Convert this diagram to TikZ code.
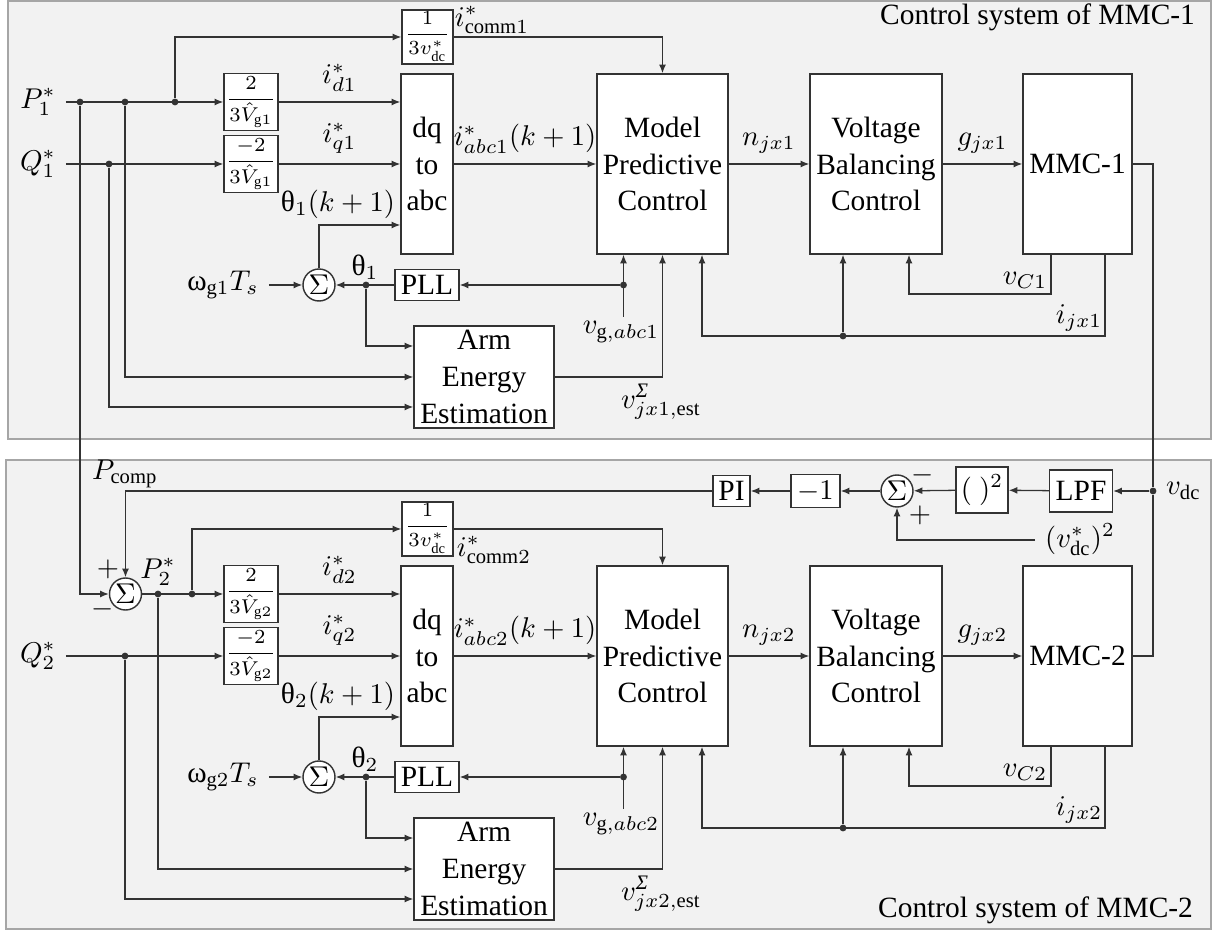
\documentclass[tikz,border=0pt]{standalone}
\usepackage{amsmath}
\usepackage{fontspec}
\setmainfont{Liberation Serif}
\usetikzlibrary{arrows.meta}
\definecolor{PanelGrey}{HTML}{F2F2F2}
\definecolor{EdgeGrey}{HTML}{A6A6A6}
\definecolor{WireInk}{HTML}{333333}
\newcommand{\thsym}{\text{θ}}
\newcommand{\omsym}{\text{ω}}
\newcommand{\sigsym}{\text{\itshape Σ}}
\begin{document}
\begin{tikzpicture}[x=0.35pt,y=-0.35pt,>={Latex[length=3pt,width=2.4pt]},every node/.style={font=\fontsize{10.3}{12.9}\selectfont,text=black},
blk/.style={draw=WireInk,fill=white,line width=0.5pt,inner sep=0.5pt,align=center},gain/.style={blk,inner sep=0pt,font=\fontsize{7.3}{8}\selectfont},sz/.style 2 args={minimum width={#1*0.35pt},minimum height={#2*0.35pt}},
sumnode/.style={circle,draw=WireInk,fill=white,line width=0.5pt,inner sep=0pt,minimum size=11.2pt},jdot/.style={circle,fill=WireInk,inner sep=0pt,minimum size=2.4pt},
wire/.style={WireInk,line width=0.45pt},panel/.style={draw=EdgeGrey,fill=PanelGrey,line width=0.7pt}]
\fill[white] (0,0) rectangle (1220,934); \useasboundingbox (0,0) rectangle (1220,934);
\draw[panel] (8,1) rectangle (1211,439); \draw[panel] (6,460) rectangle (1211,929);
\node[anchor=east] (ttl1) at (1205,17){Control system of MMC-1};
\node[anchor=east] (ttl2) at (1203,910){Control system of MMC-2};
% MMC-1
\node (P1) at (38,102){$P_1^*$}; \node (Q1) at (38,164){$Q_1^*$};
\node[jdot] (pa1) at (80,102){}; \node[jdot] (pb1) at (125,102){}; \node[jdot] (pc1) at (175,102){}; \node[jdot] (qa1) at (109,164){};
\node[gain,sz={51}{54}] (cm1) at (427.5,37){$\dfrac{1}{3v^*_{\mathrm{dc}}}$};
\node[gain,sz={54}{57}] (gd1) at (251,102){$\dfrac{2}{3\hat{V}_{\mathrm{g}1}}$};
\node[gain,sz={54}{57}] (gq1) at (251,164){$\dfrac{-2}{3\hat{V}_{\mathrm{g}1}}$};
\node[blk,sz={52}{180}] (dq1) at (427,164){dq\\to\\abc};
\node[blk,sz={131}{180}] (mpc1) at (662.5,164){Model\\Predictive\\Control};
\node[blk,sz={132}{180}] (vbc1) at (876,164){Voltage\\Balancing\\Control};
\node[blk,sz={109}{180}] (mmc1) at (1077.5,164){MMC-1};
\node[sumnode] (sa1) at (319,285){$\Sigma$}; \node (om1) at (223,285){$\omsym_{\mathrm{g}1}T_s$};
\node[jdot] (th1) at (366,285){}; \node[blk,sz={64}{31}] (pll1) at (427,285){PLL};
\node[jdot] (vgd1) at (623.5,285){}; \coordinate (vgs1) at (623.5,317);
\node[blk,sz={140}{102}] (arm1) at (484,377){Arm\\Energy\\Estimation};
\node[jdot] (jd1) at (843,336){}; \coordinate (ij1) at (1105,336); \coordinate (vc1) at (1051,294);
\node (ic1) at (492,20){$i^*_{\mathrm{comm}1}$}; \node (thk1) at (338,204){$\thsym_1(k+1)$}; \node (thl1) at (365,267){$\thsym_1$};
\node (vgl1) at (621,332){$v_{\mathrm{g},abc1}$}; \node (vsl1) at (661,402){$v^{\sigsym}_{jx1,\mathrm{est}}$};
\node (vcl1) at (1025,280){$v_{C1}$}; \node (ijl1) at (1079,318){$i_{jx1}$};
\draw[wire,->] (P1) -- (gd1); \draw[wire,->] (Q1) -- (gq1); \draw[wire,->] (pc1) |- (cm1); \draw[wire,->] (cm1) -| (mpc1);
\draw[wire,->] (gd1) -- (gd1 -| dq1.west) node[midway,above]{$i_{d1}^*$}; \draw[wire,->] (gq1) -- (gq1 -| dq1.west) node[midway,above]{$i_{q1}^*$};
\draw[wire,->] (dq1) -- (mpc1) node[midway,above]{$i^*_{abc1}(k+1)$}; \draw[wire,->] (mpc1) -- (vbc1) node[midway,above]{$n_{jx1}$}; \draw[wire,->] (vbc1) -- (mmc1) node[midway,above]{$g_{jx1}$};
\draw[wire,->] (om1) -- (sa1); \draw[wire,->] (pll1) -- (sa1); \draw[wire,->] (sa1) |- (dq1.west |- 0,225); \draw[wire,->] (vgd1) -- (pll1); \draw[wire,->] (vgs1) -- (mpc1.south -| vgs1);
\draw[wire,->] (th1) |- (arm1.west |- 0,346); \draw[wire,->] (pb1) |- (arm1); \draw[wire,->] (qa1) |- (arm1.west |- 0,407); \draw[wire,->] (arm1) -| (mpc1);
\draw[wire,->] (mmc1.south -| ij1) -- (ij1) -| (mpc1.south -| 702,0); \draw[wire,->] (jd1) -- (vbc1.south -| jd1); \draw[wire,->] (mmc1.south -| vc1) -- (vc1) -| (vbc1.south -| 909,0);
% MMC-2
\node (Q2) at (38,656){$Q_2^*$}; \node[sumnode] (sp2) at (125.5,594){$\Sigma$};
\node[jdot] (pa2) at (158,594){}; \node[jdot] (pb2) at (192,594){}; \node[jdot] (qa2) at (125,656){};
\node[gain,sz={51}{54}] (cm2) at (427.5,529){$\dfrac{1}{3v^*_{\mathrm{dc}}}$};
\node[gain,sz={54}{57}] (gd2) at (251,594){$\dfrac{2}{3\hat{V}_{\mathrm{g}2}}$};
\node[gain,sz={54}{57}] (gq2) at (251,656){$\dfrac{-2}{3\hat{V}_{\mathrm{g}2}}$};
\node[blk,sz={52}{180}] (dq2) at (427,656){dq\\to\\abc};
\node[blk,sz={131}{180}] (mpc2) at (662.5,656){Model\\Predictive\\Control};
\node[blk,sz={132}{180}] (vbc2) at (876,656){Voltage\\Balancing\\Control};
\node[blk,sz={109}{180}] (mmc2) at (1077.5,656){MMC-2};
\node[sumnode] (sa2) at (319,777){$\Sigma$}; \node (om2) at (223,777){$\omsym_{\mathrm{g}2}T_s$};
\node[jdot] (th2) at (366,777){}; \node[blk,sz={64}{31}] (pll2) at (427,777){PLL};
\node[jdot] (vgd2) at (623.5,777){}; \coordinate (vgs2) at (623.5,809);
\node[blk,sz={140}{102}] (arm2) at (484,869){Arm\\Energy\\Estimation};
\node[jdot] (jd2) at (843,828){}; \coordinate (ij2) at (1105,828); \coordinate (vc2) at (1051,786);
\node (pcl) at (125,474){$P_{\mathrm{comp}}$}; \node (P2) at (158,572){$P_2^*$}; \node at (108,569){$+$}; \node at (103,609){$-$};
\node (ic2) at (494,550){$i^*_{\mathrm{comm}2}$}; \node (thk2) at (338,696){$\thsym_2(k+1)$}; \node (thl2) at (365,759){$\thsym_2$};
\node (vgl2) at (621,824){$v_{\mathrm{g},abc2}$}; \node (vsl2) at (661,894){$v^{\sigsym}_{jx2,\mathrm{est}}$};
\node (vcl2) at (1025,772){$v_{C2}$}; \node (ijl2) at (1079,810){$i_{jx2}$};
\node[jdot] (vdc) at (1153,491){}; \node[anchor=west] (vdcl) at (1156,491){$v_{\mathrm{dc}}$};
\node[blk,sz={63}{42}] (lpf) at (1081,491){LPF}; \node[blk,sz={52}{46}] (sq) at (982,490){$(\ )^2$};
\node[sumnode] (sd) at (897,491){$\Sigma$}; \node[blk,sz={49}{33}] (neg) at (815.5,491){$-1$}; \node[blk,sz={37}{31}] (pi) at (731.5,491){PI};
\node (vref) at (1080,540){$(v_{\mathrm{dc}}^*)^2$}; \node at (923,475){$-$}; \node at (920,515){$+$};
\draw[wire,->] (pa1) |- (sp2); \draw[wire,->] (pi) -| (sp2); \draw[wire,->] (sp2) -- (gd2); \draw[wire,->] (Q2) -- (gq2); \draw[wire,->] (pb2) |- (cm2); \draw[wire,->] (cm2) -| (mpc2);
\draw[wire,->] (gd2) -- (gd2 -| dq2.west) node[midway,above]{$i_{d2}^*$}; \draw[wire,->] (gq2) -- (gq2 -| dq2.west) node[midway,above]{$i_{q2}^*$};
\draw[wire,->] (dq2) -- (mpc2) node[midway,above]{$i^*_{abc2}(k+1)$}; \draw[wire,->] (mpc2) -- (vbc2) node[midway,above]{$n_{jx2}$}; \draw[wire,->] (vbc2) -- (mmc2) node[midway,above]{$g_{jx2}$};
\draw[wire,->] (om2) -- (sa2); \draw[wire,->] (pll2) -- (sa2); \draw[wire,->] (sa2) |- (dq2.west |- 0,717); \draw[wire,->] (vgd2) -- (pll2); \draw[wire,->] (vgs2) -- (mpc2.south -| vgs2);
\draw[wire,->] (th2) |- (arm2.west |- 0,838); \draw[wire,->] (pa2) |- (arm2); \draw[wire,->] (qa2) |- (arm2.west |- 0,899); \draw[wire,->] (arm2) -| (mpc2);
\draw[wire,->] (mmc2.south -| ij2) -- (ij2) -| (mpc2.south -| 702,0); \draw[wire,->] (jd2) -- (vbc2.south -| jd2); \draw[wire,->] (mmc2.south -| vc2) -- (vc2) -| (vbc2.south -| 909,0);
\draw[wire] (mmc1) -| (vdc); \draw[wire] (mmc2) -| (vdc); \draw[wire,->] (vdc) -- (lpf); \draw[wire,->] (lpf) -- (sq); \draw[wire,->] (sq) -- (sd); \draw[wire,->] (sd) -- (neg); \draw[wire,->] (neg) -- (pi); \draw[wire,->] (vref) -| (sd);
\end{tikzpicture}
\end{document}
